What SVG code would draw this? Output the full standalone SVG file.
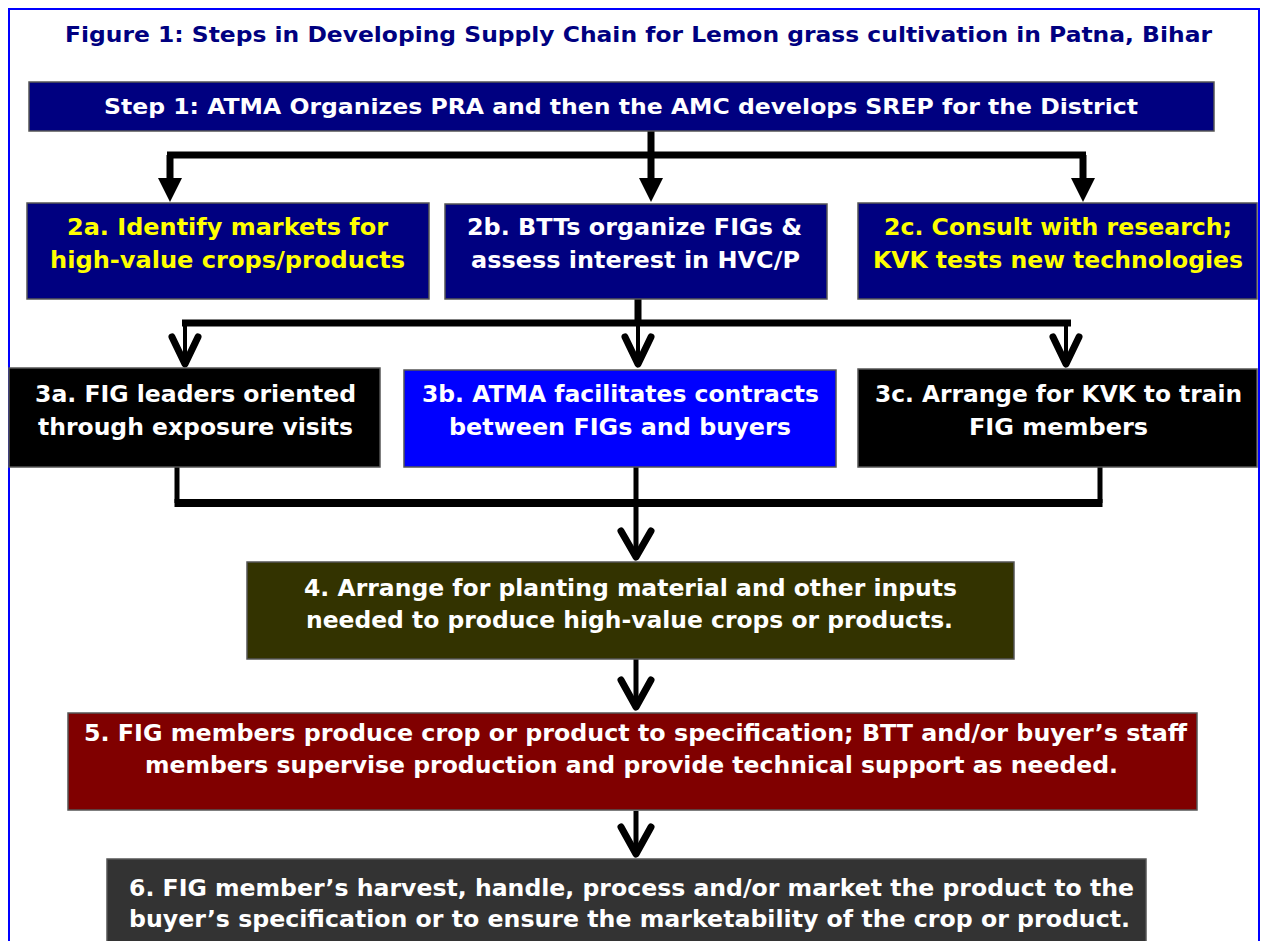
<svg xmlns="http://www.w3.org/2000/svg" width="1261" height="941" viewBox="0 0 1261 941">
  <style>
    .box { stroke: #555555; stroke-width: 1.5; }
    .t { font-family: "DejaVu Sans", Verdana, sans-serif; font-weight: bold; text-anchor: middle; }
    .w { fill: #ffffff; }
    .y { fill: #ffff00; }
    .line { fill: none; stroke: #000000; stroke-linecap: butt; }
    .vee { fill: none; stroke: #000000; stroke-width: 7; stroke-linecap: round; stroke-linejoin: round; }
  </style>

  <!-- frame -->
  <rect x="0" y="0" width="1261" height="941" fill="#ffffff"/>
  <rect x="9" y="9" width="1250" height="945" fill="#ffffff" stroke="#0000ff" stroke-width="2"/>

  <text id="title" class="t" x="638.5" y="42" font-size="21.5" fill="#000080" textLength="1147" lengthAdjust="spacingAndGlyphs">Figure 1: Steps in Developing Supply Chain for Lemon grass cultivation in Patna, Bihar</text>

  <!-- connectors -->
  <g id="connectors">
    <!-- step 1 to row 2 -->
    <path class="line" stroke-width="7" d="M651,131 V155 M167,155 H1086 M170,155 V180 M651,155 V180 M1083,155 V180"/>
    <polygon points="158,178 182,178 170,202" fill="#000"/>
    <polygon points="639,178 663,178 651,202" fill="#000"/>
    <polygon points="1071,178 1095,178 1083,202" fill="#000"/>

    <!-- row 2 to row 3 -->
    <path class="line" stroke-width="7" d="M638,299 V323 M182,323 H1071"/>
    <path class="line" stroke-width="4" d="M185,320 V362 M638,320 V362 M1066,320 V362"/>
    <path class="vee" d="M172,337 L185,364 L198,337"/>
    <path class="vee" d="M625,337 L638,364 L651,337"/>
    <path class="vee" d="M1053,337 L1066,364 L1079,337"/>

    <!-- row 3 to step 4 -->
    <path class="line" stroke-width="5" d="M177,467 V503 M1100,467 V503 M636,467 V556"/>
    <path class="line" stroke-width="8" d="M174.5,503 H1102.5"/>
    <path class="vee" stroke-width="8" d="M621,531 L636,557 L651,531"/>

    <!-- step 4 to step 5 -->
    <path class="line" stroke-width="5" d="M636,659 V706"/>
    <path class="vee" stroke-width="8" d="M621,680 L636,707 L651,680"/>

    <!-- step 5 to step 6 -->
    <path class="line" stroke-width="5" d="M636,811 V854"/>
    <path class="vee" stroke-width="8" d="M621,827 L636,854 L651,827"/>
  </g>

  <g id="step1">
    <rect class="box" x="29" y="82" width="1185" height="49" fill="#000080"/>
    <text class="t w" x="621" y="114" font-size="21.5" textLength="1034" lengthAdjust="spacingAndGlyphs">Step 1: ATMA Organizes PRA and then the AMC develops SREP for the District</text>
  </g>

  <g id="step2a">
    <rect class="box" x="27" y="203" width="402" height="96" fill="#000080"/>
    <text class="t y" x="227.5" y="235" font-size="23" textLength="321" lengthAdjust="spacingAndGlyphs">2a. Identify markets for</text>
    <text class="t y" x="227.5" y="268" font-size="23" textLength="355" lengthAdjust="spacingAndGlyphs">high-value crops/products</text>
  </g>

  <g id="step2b">
    <rect class="box" x="445" y="204" width="382" height="95" fill="#000080"/>
    <text class="t w" x="634.5" y="235" font-size="23" textLength="335" lengthAdjust="spacingAndGlyphs">2b. BTTs organize FIGs &amp;</text>
    <text class="t w" x="635.5" y="268" font-size="23" textLength="329" lengthAdjust="spacingAndGlyphs">assess interest in HVC/P</text>
  </g>

  <g id="step2c">
    <rect class="box" x="858" y="203" width="399" height="96" fill="#000080"/>
    <text class="t y" x="1058" y="235" font-size="23" textLength="348" lengthAdjust="spacingAndGlyphs">2c. Consult with research;</text>
    <text class="t y" x="1058" y="268" font-size="23" textLength="370" lengthAdjust="spacingAndGlyphs">KVK tests new technologies</text>
  </g>

  <g id="step3a">
    <rect class="box" x="9" y="368" width="371" height="99" fill="#000000"/>
    <text class="t w" x="195.5" y="402" font-size="23" textLength="321" lengthAdjust="spacingAndGlyphs">3a. FIG leaders oriented</text>
    <text class="t w" x="195.5" y="435" font-size="23" textLength="315" lengthAdjust="spacingAndGlyphs">through exposure visits</text>
  </g>

  <g id="step3b">
    <rect class="box" x="404" y="370" width="432" height="97" fill="#0000ff"/>
    <text class="t w" x="620.5" y="402" font-size="23" textLength="397" lengthAdjust="spacingAndGlyphs">3b. ATMA facilitates contracts</text>
    <text class="t w" x="620" y="435" font-size="23" textLength="342" lengthAdjust="spacingAndGlyphs">between FIGs and buyers</text>
  </g>

  <g id="step3c">
    <rect class="box" x="858" y="369" width="399" height="98" fill="#000000"/>
    <text class="t w" x="1058.5" y="402" font-size="23" textLength="367" lengthAdjust="spacingAndGlyphs">3c. Arrange for KVK to train</text>
    <text class="t w" x="1058.5" y="435" font-size="23" textLength="179" lengthAdjust="spacingAndGlyphs">FIG members</text>
  </g>

  <g id="step4">
    <rect class="box" x="247" y="562" width="767" height="97" fill="#333300"/>
    <text class="t w" x="630.5" y="596" font-size="22.5" textLength="653" lengthAdjust="spacingAndGlyphs">4. Arrange for planting material and other inputs</text>
    <text class="t w" x="629.5" y="628" font-size="22.5" textLength="647" lengthAdjust="spacingAndGlyphs">needed to produce high-value crops or products.</text>
  </g>

  <g id="step5">
    <rect class="box" x="68" y="713" width="1129" height="97" fill="#800000"/>
    <text class="t w" x="635.5" y="741" font-size="23" textLength="1103" lengthAdjust="spacingAndGlyphs">5. FIG members produce crop or product to specification; BTT and/or buyer’s staff</text>
    <text class="t w" x="631.5" y="773" font-size="23" textLength="973" lengthAdjust="spacingAndGlyphs">members supervise production and provide technical support as needed.</text>
  </g>

  <g id="step6">
    <rect class="box" x="107" y="859" width="1039" height="95" fill="#333333"/>
    <text class="t w" x="631.5" y="896" font-size="23" textLength="1005" lengthAdjust="spacingAndGlyphs">6. FIG member’s harvest, handle, process and/or market the product to the</text>
    <text class="t w" x="629.5" y="927" font-size="23" textLength="1001" lengthAdjust="spacingAndGlyphs">buyer’s specification or to ensure the marketability of the crop or product.</text>
  </g>
</svg>
